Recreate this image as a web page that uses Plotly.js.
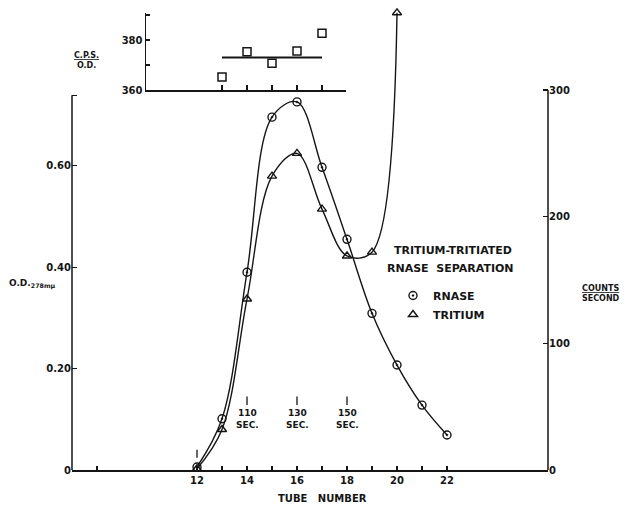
<!DOCTYPE html>
<html>
<head>
<meta charset="utf-8">
<script src="https://cdn.plot.ly/plotly-3.0.1.min.js"></script>
<style>body{margin:0;background:#fff}#myDiv{width:629px;height:512px}</style>
</head>
<body>
<div id="myDiv"></div>
<script>
// RNase optical density (left axis)
var tubes = [12, 13, 14, 15, 16, 17, 18, 19, 20, 21, 22];
var rnaseOD = [0.006, 0.101, 0.39, 0.696, 0.726, 0.597, 0.455, 0.309, 0.207, 0.128, 0.069];

// tritium counts / second (right axis)
var tritiumTubes = [12, 13, 14, 15, 16, 17, 18, 19, 20];
var tritiumCounts = [1, 32, 135, 232, 250, 206, 169, 172, 361];

// inset: C.P.S. / O.D.
var cpsTubes = [13, 14, 15, 16, 17];
var cpsPerOD = [365.2, 375.3, 370.7, 375.6, 382.7];
var cpsMean = 373;

// elution time marks
var startTube = 12;
var timeTubes = [14, 16, 18];
var timeLabels = ['110', '130', '150'];

var xTickVals = [8, 12, 13, 14, 15, 16, 17, 18, 19, 20, 21, 22];
var xTickText = ['', '12', '', '14', '', '16', '', '18', '', '20', '', '22'];

var W = 629, H = 512;
function px(x) { return x / W; }
function py(y) { return 1 - y / H; }

var ink = '#151515';

var rnase = {
  x: tubes, y: rnaseOD, yaxis: 'y', xaxis: 'x',
  type: 'scatter', mode: 'lines+markers', showlegend: false, cliponaxis: false,
  line: {color: ink, width: 1.4, shape: 'spline', smoothing: 1},
  marker: {symbol: 'circle-open-dot', size: 8, color: ink, line: {width: 1.4, color: ink}}
};
var tritium = {
  x: tritiumTubes, y: tritiumCounts, yaxis: 'y2', xaxis: 'x',
  type: 'scatter', mode: 'lines+markers', showlegend: false, cliponaxis: false,
  line: {color: ink, width: 1.4, shape: 'spline', smoothing: 1},
  marker: {symbol: 'triangle-up-open', size: 8, color: ink, line: {width: 1.4, color: ink}}
};
var cps = {
  x: cpsTubes, y: cpsPerOD, xaxis: 'x2', yaxis: 'y3',
  type: 'scatter', mode: 'markers', showlegend: false, cliponaxis: false,
  marker: {symbol: 'square-open', size: 8, color: ink, line: {width: 1.5, color: ink}}
};
var cpsLine = {
  x: [cpsTubes[0], cpsTubes[cpsTubes.length - 1]], y: [cpsMean, cpsMean],
  xaxis: 'x2', yaxis: 'y3', type: 'scatter', mode: 'lines', showlegend: false,
  line: {color: ink, width: 2}
};
// legend keys
var keyRnase = {
  x: [null], y: [null], type: 'scatter', mode: 'markers', name: 'RNASE',
  marker: {symbol: 'circle-open-dot', size: 8, color: ink, line: {width: 1.4, color: ink}}
};
var keyTritium = {
  x: [null], y: [null], type: 'scatter', mode: 'markers', name: 'TRITIUM',
  marker: {symbol: 'triangle-up-open', size: 8, color: ink, line: {width: 1.4, color: ink}}
};

var shapes = [
  {type: 'line', xref: 'x domain', x0: 0, x1: 0, yref: 'y', y0: 0, y1: 0.739, line: {color: ink, width: 1.5}},
  {type: 'line', xref: 'x domain', x0: 1, x1: 1, yref: 'y2', y0: 0, y1: 300, line: {color: ink, width: 1.5}},
  {type: 'line', xref: 'x', x0: startTube, x1: startTube, yref: 'y', y0: 0.024, y1: 0.040, line: {color: ink, width: 1.3}}
];
var annotations = [];
timeTubes.forEach(function (t, i) {
  shapes.push({type: 'line', xref: 'x', x0: t, x1: t, yref: 'y', y0: 0.128, y1: 0.145, line: {color: ink, width: 1.3}});
  annotations.push({x: t, y: 0.100, xref: 'x', yref: 'y', xanchor: 'center', yanchor: 'middle',
    text: timeLabels[i] + '<br>SEC.', showarrow: false, font: {size: 9}});
});

function note(x, y, text, size, anchor) {
  return {x: px(x), y: py(y), xref: 'paper', yref: 'paper', xanchor: anchor || 'center', yanchor: 'middle',
    text: text, showarrow: false, font: {size: size}};
}
annotations.push(
  note(7, 284, 'O.D.<sub>278mμ</sub>', 9, 'left'),
  note(86, 60, '<u>C.P.S.</u><br>O.D.', 8),
  note(601, 293, '<u>COUNTS</u><br>SECOND', 8),
  note(453, 250, 'TRITIUM-TRITIATED', 11),
  note(450, 268, 'RNASE  SEPARATION', 11),
  {x: 17, y: py(498), xref: 'x', yref: 'paper', xanchor: 'center', yanchor: 'middle',
    text: 'TUBE   NUMBER', showarrow: false, font: {size: 10}}
);

var axisCommon = {
  showgrid: false, zeroline: false, showline: false,
  ticks: 'inside', tickcolor: ink, tickwidth: 1.3, ticklen: 4,
  tickfont: {size: 10}
};

var layout = {
  width: W, height: H,
  margin: {l: 0, r: 0, t: 0, b: 0},
  paper_bgcolor: 'white', plot_bgcolor: 'rgba(0,0,0,0)',
  font: {family: 'DejaVu Sans', size: 9, color: ink, weight: 'bold'},
  showlegend: true,
  legend: {x: px(393), y: py(281), xanchor: 'left', yanchor: 'top', bgcolor: 'rgba(0,0,0,0)',
    font: {size: 11}, tracegroupgap: 2},
  xaxis: Object.assign({}, axisCommon, {
    domain: [px(72), px(548)], range: [7, 26.04], anchor: 'y',
    showline: true, linecolor: ink, linewidth: 1.5,
    tickmode: 'array', tickvals: xTickVals, ticktext: xTickText
  }),
  yaxis: Object.assign({}, axisCommon, {
    domain: [42 / H, 502 / H], range: [0, 460 / 507], anchor: 'x',
    tickmode: 'array', tickvals: [0, 0.2, 0.4, 0.6, 0.739], ticktext: ['0', '0.20', '0.40', '0.60', ''],
    ticklen: 5
  }),
  yaxis2: Object.assign({}, axisCommon, {
    overlaying: 'y', side: 'right', anchor: 'x', range: [0, 363.2],
    tickmode: 'array', tickvals: [0, 100, 200, 300], ticktext: ['0', '100', '200', '300'],
    ticklen: 5
  }),
  xaxis2: Object.assign({}, axisCommon, {
    domain: [px(146), px(346)], range: [9.96, 17.96], anchor: 'y3',
    showline: true, linecolor: ink, linewidth: 1.5,
    tickmode: 'array', tickvals: cpsTubes, ticktext: ['', '', '', '', ''], ticklen: 5
  }),
  yaxis3: Object.assign({}, axisCommon, {
    domain: [py(90), py(13)], range: [360, 390.8], anchor: 'x2',
    showline: true, linecolor: ink, linewidth: 1.5,
    tickmode: 'array', tickvals: [360, 370, 380, 390], ticktext: ['360', '', '380', ''], ticklen: 4
  }),
  shapes: shapes,
  annotations: annotations
};

Plotly.newPlot('myDiv', [rnase, tritium, cps, cpsLine, keyRnase, keyTritium], layout, {displayModeBar: false, staticPlot: true});
</script>
</body>
</html>
